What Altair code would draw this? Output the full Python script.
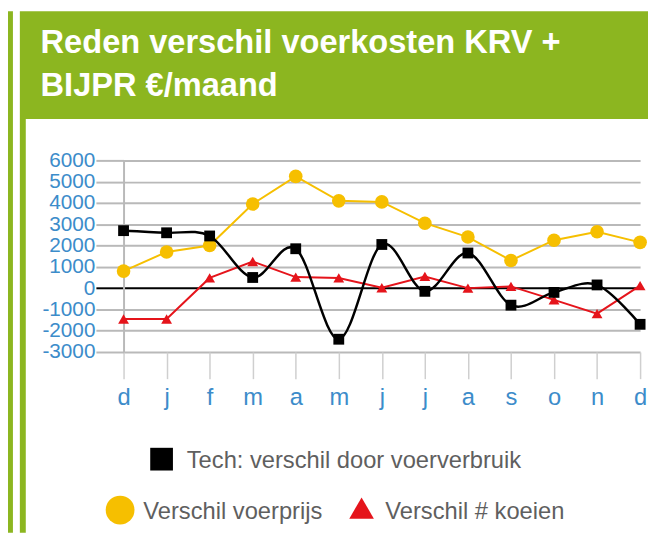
import json
import altair as alt
import pandas as pd

# ---- data ----
months = ["d", "j", "f", "m", "a", "m", "j", "j", "a", "s", "o", "n", "d"]
tech = [2700, 2600, 2450, 500, 1850, -2400, 2050, -150, 1650, -800, -200, 150, -1700]
voerprijs = [800, 1700, 2000, 3950, 5250, 4100, 4050, 3050, 2400, 1300, 2250, 2650, 2150]
koeien = [-1450, -1450, 480, 1250, 520, 480, 20, 550, 0, 80, -550, -1200, 120]
y_ticks = [-3000, -2000, -1000, 0, 1000, 2000, 3000, 4000, 5000, 6000]

series_names = {
    "tech": "Tech: verschil door voerverbruik",
    "prijs": "Verschil voerprijs",
    "koe": "Verschil # koeien",
}
title_lines = ["Reden verschil voerkosten KRV +", "BIJPR €/maand"]

rows = []
for key, vals in (("tech", tech), ("prijs", voerprijs), ("koe", koeien)):
    for i, v in enumerate(vals):
        rows.append({"idx": i, "maand": months[i], "value": v, "serie": key})
df = pd.DataFrame(rows)

FONT = "Liberation Sans"
GREEN = "#8cb620"
BLUE = "#3c8cca"
GRID = "#b9b9b9"
YELLOW = "#f6bf00"
RED = "#e5141b"

W, H = 523, 194
label_expr = json.dumps(months) + "[datum.value]"

xscale = alt.Scale(domain=[0, 12], nice=False, zero=False)
yscale = alt.Scale(domain=[-3000, 6000], nice=False, zero=False)

x_axis = alt.Axis(
    values=list(range(13)), tickCount=len(months), labelExpr=label_expr,
    labelFlush=False, labelOverlap=False,
    tickSize=27, tickColor="#cfcfcf", tickWidth=1.5, domain=False, grid=False,
    labelColor=BLUE, labelFontSize=24, labelFont=FONT, labelPadding=7, title=None,
)
y_axis = alt.Axis(
    values=y_ticks, tickCount=len(y_ticks), labelExpr="'' + datum.value",
    labelOverlap=False, labelFlush=False,
    tickSize=28, tickWidth=2,
    tickColor={"condition": {"test": "datum.value === 0", "value": "#000000"}, "value": GRID},
    grid=True, gridWidth=2,
    gridColor={"condition": {"test": "datum.value === 0", "value": "#000000"}, "value": GRID},
    domain=True, domainColor=GRID, domainWidth=2,
    labelColor=BLUE, labelFontSize=21, labelFont=FONT, labelPadding=1, title=None,
)

one = alt.Data(values=[{}])

def rect(x, x2, y, y2, color):
    return alt.Chart(one).mark_rect(color=color).encode(
        x=alt.value(x), x2=alt.value(x2), y=alt.value(y), y2=alt.value(y2))

def text(s, x, y, size, color, weight="normal"):
    return alt.Chart(one).mark_text(
        text=s, align="left", baseline="alphabetic", font=FONT,
        fontSize=size, color=color, fontWeight=weight,
    ).encode(x=alt.value(x), y=alt.value(y))

def sym(shape, x, y, size, color):
    return alt.Chart(one).mark_point(
        shape=shape, filled=True, size=size, color=color, opacity=1,
    ).encode(x=alt.value(x), y=alt.value(y))

deco = [
    rect(-117, -112, -151, 377, GREEN),
    rect(-105, 531, -151, -42, GREEN),
    rect(-105, -99, -42, 377, GREEN),
    text(title_lines[0], -84, -109, 33, "white", "bold"),
    text(title_lines[1], -84, -65, 33, "white", "bold"),
    sym("square", 38.5, 302.5, 529, "black"),
    text(series_names["tech"], 64, 311.5, 24, "#5f5f5f"),
    sym("circle", -3.5, 354, 850, YELLOW),
    text(series_names["prijs"], 20, 363.5, 24, "#5f5f5f"),
    sym("triangle-up", 241, 352, 620, RED),
    text(series_names["koe"], 265, 363.5, 24, "#5f5f5f"),
]

base = alt.Chart(df)

def series_layers(key, color, shape, size, width, interp):
    b = base.transform_filter(alt.datum.serie == key)
    enc = dict(
        x=alt.X("idx:Q", scale=xscale, axis=x_axis),
        y=alt.Y("value:Q", scale=yscale, axis=y_axis),
    )
    line = b.mark_line(color=color, strokeWidth=width, interpolate=interp).encode(**enc)
    pts = b.mark_point(shape=shape, filled=True, size=size, color=color, opacity=1).encode(**enc)
    return [line, pts]

layers = list(deco)
layers += series_layers("prijs", YELLOW, "circle", 190, 2, "linear")
layers += series_layers("koe", RED, "triangle-up", 120, 2, "linear")
layers += series_layers("tech", "black", "square", 120, 2.5, "cardinal")

chart = alt.layer(*layers).properties(
    width=W, height=H,
    autosize="none",
    padding={"left": 117, "top": 151, "right": 8, "bottom": 183},
    background="white",
).configure_view(strokeWidth=0)

chart.save("out.html", embed_options={"renderer": "svg", "actions": False})
